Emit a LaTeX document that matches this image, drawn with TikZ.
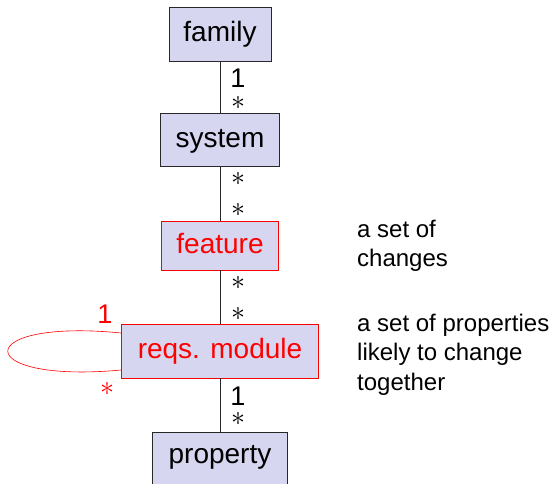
\documentclass[tikz,border=0pt]{standalone}
\usepackage{fontspec}
\setmainfont{Liberation Sans}
\definecolor{boxfill}{RGB}{214,214,240}
\definecolor{linegray}{RGB}{40,40,40}
\newcommand{\multstar}{\scalebox{2.8}{$\ast$}}
\begin{document}
\begin{tikzpicture}[x=1pt,y=-1pt,
  box/.style={draw=linegray, line width=0.8pt, fill=boxfill, inner xsep=0pt, inner ysep=0pt,
    font=\fontsize{28}{34}\selectfont, text height=21pt, text depth=6pt},
  redbox/.style={box, draw=red, text=red},
  mult/.style={font=\fontsize{27}{30}\selectfont, inner sep=0pt, anchor=base},
  star/.style={inner sep=0pt},
  note/.style={font=\fontsize{24}{29.5}\selectfont, align=left, inner sep=0pt, anchor=base west}]
\useasboundingbox (0,0) rectangle (551,483);
\clip (0,0) rectangle (551,483);

\node[box, minimum width=102pt, minimum height=54pt] (family) at (220,34) {family};
\node[box, minimum width=119pt, minimum height=53pt] (system) at (220,139.5) {system};
\node[redbox, minimum width=117pt, minimum height=49pt] (feature) at (220,245.5) {feature};
\node[redbox, minimum width=197pt, minimum height=54pt] (reqs) at (220,351) {reqs. module};
\node[box, minimum width=135pt, text depth=30pt, inner ysep=10pt] (property) at (220,467.5) {property};

\draw[linegray, line width=0.8pt] (family) -- (system);
\draw[linegray, line width=0.8pt] (system) -- (feature);
\draw[linegray, line width=0.8pt] (feature) -- (reqs);
\draw[linegray, line width=0.8pt] (reqs) -- (property);

\draw[red, line width=0.6pt] ([yshift=18pt]reqs.west) .. controls (-30,318) and (-30,384) .. ([yshift=-19pt]reqs.west);

\node[mult] (m1) at (238,87) {1};
\node[star] (s1) at (238,102.5) {\multstar};
\node[star] (s2) at (238,178.5) {\multstar};
\node[star] (s3) at (238,209.5) {\multstar};
\node[star] (s4) at (238,283) {\multstar};
\node[star] (s5) at (238,313.5) {\multstar};
\node[mult] (m2) at (238,405) {1};
\node[star] (s6) at (238,418.5) {\multstar};
\node[mult, text=red] (m3) at (105,323) {1};
\node[star, text=red] (s7) at (107,389) {\multstar};

\node[note] (n1) at (357,266.5) {a set of\\changes};
\node[note] (n2) at (357,390) {a set of properties\\likely to change\\together};
\end{tikzpicture}
\end{document}
